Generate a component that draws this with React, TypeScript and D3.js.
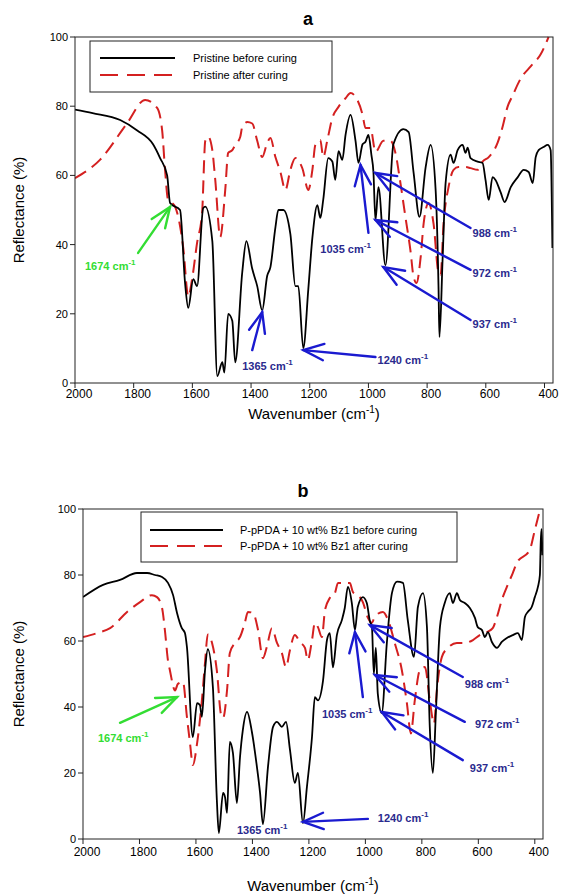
import React from "react";
import * as d3 from "d3";

const WAVENUMBER_TICKS = [2000, 1800, 1600, 1400, 1200, 1000, 800, 600, 400];
const REFLECTANCE_TICKS = [0, 20, 40, 60, 80, 100];

const LEGEND_A = ["Pristine before curing", "Pristine after curing"];
const LEGEND_B = ["P-pPDA + 10 wt% Bz1 before curing", "P-pPDA + 10 wt% Bz1 after curing"];

// Panel a, before curing (wavenumber, reflectance)
const A_BEFORE: [number, number][] = [
  [2000, 79], [1940, 78], [1846, 76], [1788, 73], [1734, 69], [1710, 65], [1686, 60], [1676, 52],
  [1642, 50], [1625, 29], [1614, 21.7], [1597, 30], [1584, 28], [1563, 50.6], [1556, 51], [1532, 41],
  [1515, 2], [1498, 6], [1491, 3], [1478, 20], [1464, 18], [1454, 6], [1430, 32], [1416, 41],
  [1396, 33], [1379, 28], [1362, 21], [1345, 31], [1334, 33.5], [1317, 45], [1307, 50], [1290, 50],
  [1266, 43], [1249, 28], [1239, 28], [1222, 10], [1205, 27], [1191, 42], [1174, 51.4], [1164, 47.7],
  [1154, 53], [1137, 65], [1123, 64], [1113, 58.7], [1102, 67], [1089, 64.5], [1078, 71.7], [1061, 77.5],
  [1044, 70], [1034, 63.6], [1020, 69], [1010, 69.7], [1000, 71.7], [990, 66], [983, 61], [976, 47],
  [966, 56.6], [942, 34], [915, 69], [881, 73.4], [863, 72.5], [846, 60.7], [826, 48], [805, 62.4],
  [788, 68.8], [771, 55.8], [761, 27], [758, 13.3], [747, 36.4], [737, 57.8], [720, 66], [710, 63.6],
  [696, 67.3], [679, 68.8], [669, 66.5], [662, 68], [652, 65], [628, 64], [611, 63.6], [601, 58.7],
  [590, 52.9], [577, 59.5], [567, 58.7], [549, 55], [536, 52.3], [515, 56.6], [491, 59.5], [471, 61.6],
  [454, 61], [440, 57.8], [430, 65.3], [420, 67.3], [403, 68.2], [389, 68.8], [379, 67.3], [373, 39]
];

// Panel a, after curing
const A_AFTER: [number, number][] = [
  [2000, 59.2], [1915, 64.5], [1823, 75], [1761, 81.8], [1720, 79.5], [1703, 73], [1693, 61.5], [1683, 53],
  [1669, 52], [1659, 51], [1631, 39], [1614, 25], [1601, 30], [1584, 40.5], [1567, 49], [1556, 70],
  [1546, 71.2], [1532, 67.3], [1522, 58.7], [1505, 42.2], [1488, 55.8], [1478, 66.5], [1464, 67.3], [1454, 68.8],
  [1437, 71.1], [1430, 74], [1413, 75.4], [1396, 75], [1379, 70], [1362, 65.3], [1345, 69.4], [1334, 70.8],
  [1317, 65.3], [1300, 61], [1283, 55.8], [1266, 61.6], [1249, 65], [1225, 62], [1205, 55.8], [1191, 61.6],
  [1181, 68.8], [1164, 70.2], [1154, 65.3], [1140, 70.2], [1123, 76.6], [1102, 79.8], [1078, 82.3], [1061, 83.8],
  [1044, 82.7], [1020, 77.5], [1010, 73.7], [993, 73.7], [976, 66.8], [949, 70], [925, 70], [908, 66.5],
  [891, 57.8], [874, 48], [857, 38.4], [846, 30.6], [836, 28.9], [822, 36.4], [812, 46], [795, 52],
  [778, 46], [761, 31.8], [754, 31.2], [744, 46], [727, 56.6], [710, 61.6], [693, 62.4], [669, 62.4],
  [652, 62.1], [628, 61.6], [611, 64], [590, 65.3], [560, 69.4], [543, 74], [526, 79.8], [509, 83],
  [481, 88], [447, 91.5], [413, 95], [386, 100]
];

// Panel b, before curing
const B_BEFORE: [number, number][] = [
  [2000, 73.3], [1929, 77], [1869, 78.5], [1809, 80.6], [1773, 80.6], [1745, 80], [1720, 79.4], [1699, 77.6],
  [1681, 73.9], [1667, 68.5], [1650, 63.9], [1639, 62.4], [1632, 58.2], [1611, 30.9], [1596, 41.2], [1586, 40.6],
  [1579, 37], [1568, 51], [1558, 57.5], [1540, 46], [1526, 11.8], [1519, 1.8], [1504, 14], [1497, 12.7],
  [1490, 7.9], [1480, 29.4], [1469, 26], [1455, 10.9], [1444, 24.8], [1434, 33], [1419, 38.5], [1402, 32.5],
  [1384, 21.8], [1373, 14], [1363, 4.5], [1345, 21.8], [1327, 34], [1313, 35.5], [1296, 34], [1281, 35.5],
  [1267, 27], [1250, 17], [1239, 20], [1221, 4.8], [1207, 15.8], [1189, 31], [1179, 43], [1168, 42],
  [1150, 48], [1136, 60.3], [1126, 62.4], [1115, 52], [1101, 61.8], [1083, 66.4], [1073, 70], [1062, 76.4],
  [1048, 71.5], [1037, 63.3], [1027, 70.3], [1009, 73.3], [995, 71.5], [984, 66], [977, 64.5], [970, 50],
  [963, 58], [956, 44], [942, 38.2], [924, 59.4], [906, 74.5], [888, 78], [867, 77.6], [850, 66.4],
  [828, 55.2], [814, 70.3], [796, 74.5], [782, 64.2], [772, 34], [761, 20], [750, 39], [736, 64.2],
  [719, 71.5], [701, 74.5], [690, 71.5], [676, 74.5], [665, 72.4], [648, 71.5], [630, 70], [612, 67],
  [602, 64.2], [587, 63.3], [577, 61.2], [566, 62.7], [552, 59.7], [534, 57.9], [517, 59.7], [499, 60.9],
  [478, 61.8], [460, 62.4], [446, 60.3], [435, 67.3], [425, 68.8], [411, 70.3], [400, 73.3], [389, 76.4],
  [382, 80], [379, 90], [376, 94], [373, 86]
];

// Panel b, after curing
const B_AFTER: [number, number][] = [
  [2000, 61.2], [1950, 62.4], [1904, 63.9], [1844, 68.8], [1798, 71.8], [1756, 73.9], [1738, 73.3], [1720, 70],
  [1710, 63.3], [1699, 54], [1692, 51], [1674, 45], [1664, 47], [1646, 47.6], [1632, 37], [1621, 29],
  [1611, 22.4], [1596, 29], [1579, 42], [1568, 53.3], [1558, 62], [1543, 59.4], [1526, 51], [1511, 37.6],
  [1504, 36.7], [1490, 45], [1480, 56.4], [1462, 59.4], [1444, 61.2], [1427, 65.5], [1416, 68.8], [1398, 68.5],
  [1380, 63.3], [1363, 54.8], [1349, 58.2], [1331, 63.9], [1313, 59.4], [1296, 56.4], [1281, 52.1], [1267, 57.3],
  [1250, 61.8], [1232, 59.7], [1214, 57.9], [1204, 54.2], [1189, 60.3], [1179, 65.5], [1168, 64.2], [1154, 61.2],
  [1143, 69.4], [1126, 73], [1108, 74.5], [1097, 77.6], [1080, 77.6], [1055, 77.6], [1044, 74.8], [1027, 73.9],
  [1009, 71.8], [991, 67], [977, 65.5], [967, 67.3], [938, 68.8], [920, 66.4], [896, 59.4], [871, 51.2],
  [853, 41.2], [839, 32], [825, 42], [807, 51.2], [789, 52.1], [772, 42], [757, 35], [747, 45],
  [729, 55.2], [708, 57.9], [676, 59.4], [648, 59.4], [619, 60.3], [595, 61.8], [570, 62.7], [549, 63.9],
  [534, 67.3], [517, 72.4], [499, 76.4], [478, 80.6], [464, 83.6], [418, 87.6], [400, 93.6], [382, 99.7]
];

type Note = { label: string; kind: "green" | "blue"; tip?: [number, number]; tail?: [number, number]; text: [number, number] };

const NOTES_A: Note[] = [
  { label: "1674", kind: "green", tip: [1676, 50.9], tail: [1785, 37.6], text: [1966, 32.7] },
  { label: "1365", kind: "blue", tip: [1362, 20.5], tail: [1396, 9.5], text: [1430, 3.8] },
  { label: "1240", kind: "blue", tip: [1222, 9.5], tail: [976, 7.5], text: [969, 5.5] },
  { label: "1035", kind: "blue", tip: [1027, 63], tail: [1000, 43.4], text: [1164, 37.6] },
  { label: "988", kind: "blue", tip: [976, 60.7], tail: [652, 44.8], text: [645, 42.2] },
  { label: "972", kind: "blue", tip: [976, 47.1], tail: [652, 32.7], text: [645, 30.6] },
  { label: "937", kind: "blue", tip: [949, 33.5], tail: [652, 18.2], text: [645, 15.9] }
];

const NOTES_B: Note[] = [
  { label: "1674", kind: "green", tip: [1667, 43], tail: [1869, 35.2], text: [1947, 29.4] },
  { label: "1365", kind: "blue", text: [1455, 1.5] },
  { label: "1240", kind: "blue", tip: [1221, 5.2], tail: [991, 6.1], text: [956, 5.2] },
  { label: "1035", kind: "blue", tip: [1037, 62.7], tail: [1009, 43], text: [1154, 36.7] },
  { label: "988", kind: "blue", tip: [984, 64.8], tail: [655, 49.1], text: [648, 45.8] },
  { label: "972", kind: "blue", tip: [966, 49.7], tail: [648, 35.5], text: [612, 33.6] },
  { label: "937", kind: "blue", tip: [942, 38.5], tail: [655, 23.9], text: [630, 20.3] }
];

const FONT = "Liberation Sans, Arial, sans-serif";
const RED = "#d42020";
const GREEN = "#33dd33";
const BLUE_LINE = "#1a1ad0";
const BLUE_TEXT = "#2a2a8e";

type Layout = {
  left: number; right: number; top: number; bottom: number;
  title: string; titleX: number; titleY: number;
  legend: { x0: number; x1: number; y0: number; y1: number; lx0: number; lx1: number; tx: number; rows: number[] };
  xTitleX: number; xTitleY: number; yTitleY: number; tickGap: number;
};

function Panel({ layout, before, after, legend, notes, id }: { layout: Layout; before: [number, number][]; after: [number, number][]; legend: string[]; notes: Note[]; id: string }) {
  const x = d3.scaleLinear().domain([2000, 371]).range([layout.left, layout.right]);
  const y = d3.scaleLinear().domain([0, 100]).range([layout.bottom, layout.top]);
  const line = d3.line<[number, number]>().x(d => x(d[0])).y(d => y(d[1])).curve(d3.curveMonotoneX);
  const L = layout.legend;

  const arrowHead = (tip: [number, number], tail: [number, number]) => {
    const tx = x(tip[0]), ty = y(tip[1]);
    const ax = x(tail[0]), ay = y(tail[1]);
    const ang = Math.atan2(ay - ty, ax - tx);
    const len = 22, spread = 0.38;
    const p1 = [tx + len * Math.cos(ang + spread), ty + len * Math.sin(ang + spread)];
    const p2 = [tx + len * Math.cos(ang - spread), ty + len * Math.sin(ang - spread)];
    return `M${p1[0]},${p1[1]}L${tx},${ty}L${p2[0]},${p2[1]}`;
  };

  return (
    <g>
      <defs>
        <clipPath id={`clip-${id}`}>
          <rect x={layout.left} y={layout.top - 2} width={layout.right - layout.left} height={layout.bottom - layout.top + 2} />
        </clipPath>
      </defs>
      <text x={layout.titleX} y={layout.titleY} fontFamily={FONT} fontWeight="bold" fontSize={18} textAnchor="middle">{layout.title}</text>
      <g clipPath={`url(#clip-${id})`}>
        <path d={line(after) || ""} fill="none" stroke={RED} strokeWidth={2} strokeDasharray="13,7" />
        <path d={line(before) || ""} fill="none" stroke="#000" strokeWidth={1.8} />
      </g>
      <rect x={layout.left} y={layout.top} width={layout.right - layout.left} height={layout.bottom - layout.top} fill="none" stroke="#222" strokeWidth={1} />
      {WAVENUMBER_TICKS.map(t => (
        <g key={t}>
          <line x1={x(t)} x2={x(t)} y1={layout.bottom} y2={layout.bottom + 5} stroke="#222" />
          <text x={x(t) + 4} y={layout.bottom + layout.tickGap} fontFamily={FONT} fontSize={12} textAnchor="middle">{t}</text>
        </g>
      ))}
      {REFLECTANCE_TICKS.map(t => (
        <g key={t}>
          <line x1={layout.left - 5} x2={layout.left} y1={y(t)} y2={y(t)} stroke="#222" />
          <text x={layout.left - 7} y={y(t) + 4} fontFamily={FONT} fontSize={11} textAnchor="end">{t}</text>
        </g>
      ))}
      <text x={layout.xTitleX} y={layout.xTitleY} fontFamily={FONT} fontSize={15} textAnchor="middle">
        Wavenumber (cm<tspan dy={-6} fontSize={10}>-1</tspan><tspan dy={6}>)</tspan>
      </text>
      <text transform={`translate(24,${layout.yTitleY}) rotate(-90)`} fontFamily={FONT} fontSize={15} textAnchor="middle">Reflectance (%)</text>
      <rect x={L.x0} y={L.y0} width={L.x1 - L.x0} height={L.y1 - L.y0} fill="#fff" stroke="#222" strokeWidth={1} />
      <line x1={L.lx0} x2={L.lx1} y1={L.rows[0]} y2={L.rows[0]} stroke="#000" strokeWidth={2} />
      <line x1={L.lx0} x2={L.lx1} y1={L.rows[1]} y2={L.rows[1]} stroke={RED} strokeWidth={2} strokeDasharray="18,9" />
      {legend.map((s, i) => (
        <text key={s} x={L.tx} y={L.rows[i] + 4} fontFamily={FONT} fontSize={11}>{s}</text>
      ))}
      {notes.map((n, i) => {
        const lineColor = n.kind === "green" ? GREEN : BLUE_LINE;
        const textColor = n.kind === "green" ? GREEN : BLUE_TEXT;
        return (
          <g key={i}>
            {n.tip && n.tail && (
              <g stroke={lineColor} strokeWidth={2.4} fill="none" strokeLinecap="round">
                <line x1={x(n.tail[0])} y1={y(n.tail[1])} x2={x(n.tip[0])} y2={y(n.tip[1])} />
                <path d={arrowHead(n.tip, n.tail)} />
              </g>
            )}
            <text x={x(n.text[0])} y={y(n.text[1])} fontFamily={FONT} fontSize={11} fontWeight="bold" fill={textColor}>
              {n.label} cm<tspan dy={-5} fontSize={8}>-1</tspan>
            </text>
          </g>
        );
      })}
    </g>
  );
}

const LAYOUT_A: Layout = {
  left: 75, right: 553, top: 37, bottom: 383,
  title: "a", titleX: 308, titleY: 25,
  legend: { x0: 90, x1: 332, y0: 41, y1: 92, lx0: 100, lx1: 175, tx: 193, rows: [58, 75] },
  xTitleX: 314, xTitleY: 419, yTitleY: 210, tickGap: 15
};

const LAYOUT_B: Layout = {
  left: 83, right: 543, top: 509, bottom: 839,
  title: "b", titleX: 303, titleY: 497,
  legend: { x0: 141, x1: 457, y0: 512, y1: 562, lx0: 150, lx1: 223, tx: 240, rows: [530, 546] },
  xTitleX: 313, xTitleY: 891, yTitleY: 674, tickGap: 17
};

export default function App() {
  return (
    <svg width={561} height={896} style={{ position: "absolute", left: 0, top: 0, background: "#fff" }}>
      <rect width={561} height={896} fill="#fff" />
      <Panel id="a" layout={LAYOUT_A} before={A_BEFORE} after={A_AFTER} legend={LEGEND_A} notes={NOTES_A} />
      <Panel id="b" layout={LAYOUT_B} before={B_BEFORE} after={B_AFTER} legend={LEGEND_B} notes={NOTES_B} />
    </svg>
  );
}
